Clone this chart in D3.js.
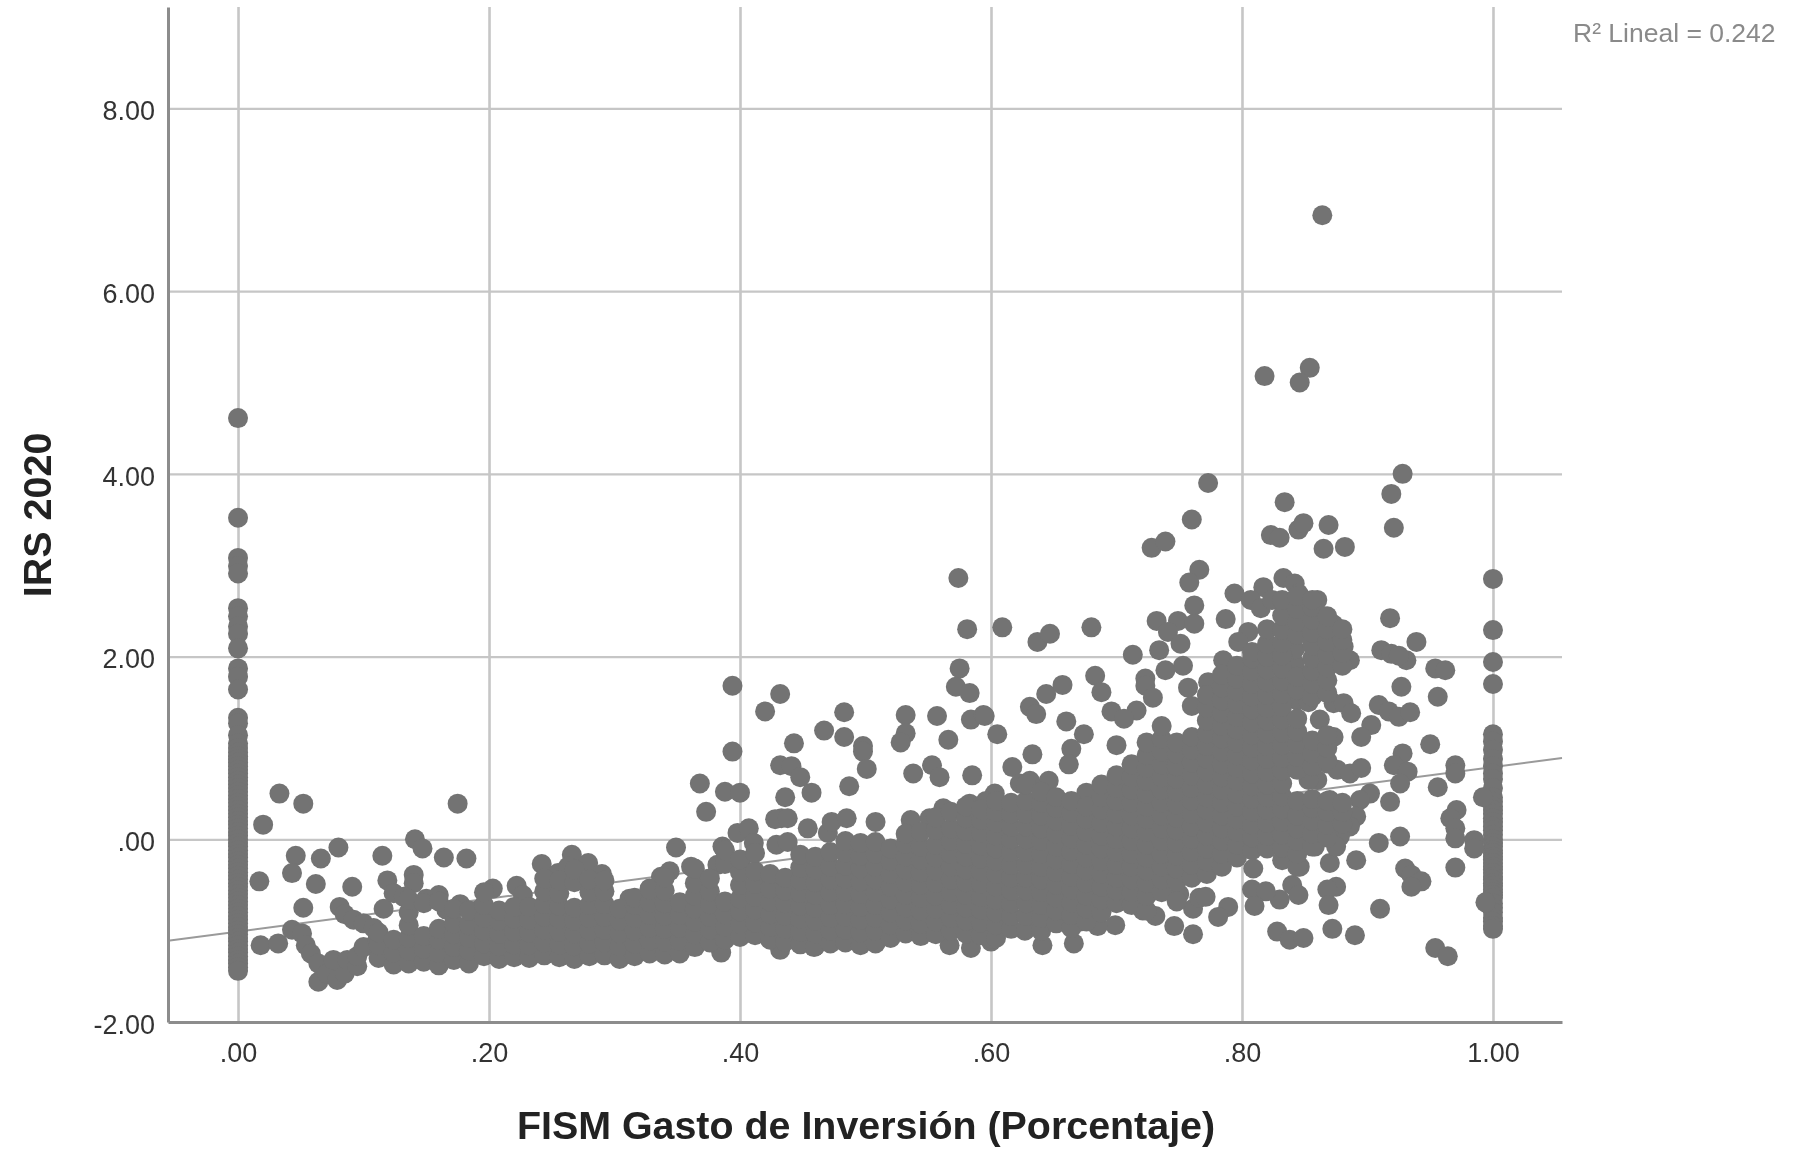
<!DOCTYPE html>
<html>
<head>
<meta charset="utf-8">
<script src="https://cdnjs.cloudflare.com/ajax/libs/d3/7.8.5/d3.min.js"></script>
<style>
  html, body { margin: 0; padding: 0; background: #fff; overflow: hidden; }
  svg { display: block; filter: blur(.5px); }
  text { font-family: "Liberation Sans", Arial, sans-serif; }
</style>
</head>
<body>
<svg id="chart" width="1793" height="1150"></svg>
<script>
// tick labels
const xTicks = [0, .2, .4, .6, .8, 1];
const xTickLabels = ['.00', '.20', '.40', '.60', '.80', '1.00'];
const yTicks = [-2, 0, 2, 4, 6, 8];
const yTickLabels = ['-2.00', '.00', '2.00', '4.00', '6.00', '8.00'];

// fit line, read at the two ends of the plot
const trendX = [-.0558, 1.055];
const trendY = [-1.11, .89];

// municipalities stacked at exactly 0 and exactly 1
const irsAtZero = [4.61,3.52,3.08,2.99,2.91,2.53,2.44,2.33,2.25,2.09,1.87,1.78,1.64,1.33,1.27,1.14,1.05,1,.95,.91,.88,.84,.8,.76,.72,.68,.64,.6,.56,.52,.48,.44,.4,.36,.32,.28,.24,.2,.16,.12,.08,.04,0,-.04,-.08,-.12,-.16,-.2,-.24,-.28,-.32,-.36,-.4,-.44,-.48,-.52,-.56,-.6,-.64,-.68,-.72,-.76,-.8,-.84,-.88,-.92,-.96,-1,-1.04,-1.08,-1.12,-1.16,-1.2,-1.24,-1.28,-1.32,-1.36,-1.4,-1.44];
const irsAtOne = [2.85,2.29,1.94,1.7,1.15,1.07,.98,.88,.8,.72,.66,.56,.46,.41,.36,.32,.28,.23,.19,.14,.1,.05,0,-.04,-.08,-.12,-.15,-.19,-.22,-.26,-.3,-.33,-.37,-.41,-.44,-.48,-.51,-.55,-.58,-.61,-.64,-.7,-.75,-.8,-.86,-.9,-.95,-.98];

// points that can be told apart, [gasto, irs]
const separatePoints = [
  [.864,6.83],[.818,5.07],[.854,5.16],[.846,5],[.773,3.9],[.76,3.5],[.728,3.19],[.739,3.26],[.928,4],[.919,3.78],[.921,3.41],
  [.834,3.69],[.869,3.44],[.865,3.18],[.882,3.2],[.823,3.33],[.83,3.3],[.845,3.39],[.849,3.46],[.574,2.86],[.581,2.3],[.609,2.32],
  [.637,2.16],[.647,2.25],[.68,2.32],[.713,2.02],[.766,2.95],[.758,2.81],
  [.033,.5],[.052,.39],[.02,.16],[.175,.39],[.08,-.09],[.066,-.21],[.046,-.18],[.043,-.37],[.017,-.46],[.062,-.49],[.091,-.52],
  [.115,-.18],[.141,0],[.147,-.1],[.164,-.2],[.182,-.21],[.119,-.45],[.14,-.39],[.14,-.48],[.203,-.54],[.052,-.75],[.018,-1.16],
  [.032,-1.14],[.116,-.76],[.081,-.74],[.085,-.82],[.092,-.88],[.1,-.92],[.108,-.97],[.043,-.99],[.051,-1.03],[.054,-1.16],[.058,-1.25],
  [.064,-1.36],[.064,-1.56],[.071,-1.47],[.079,-1.54],[.085,-1.47],[.076,-1.32],[.087,-1.32],[.095,-1.39],[.095,-1.28],[.1,-1.18],[.111,-1.1],
  [.124,-.59],[.132,-.63],[.15,-.65],[.16,-.61],[.177,-.71],[.192,-.77],[.166,-.77],
  [.222,-.51],[.242,-.27],[.266,-.17],[.279,-.26],[.29,-.38],[.255,-.37],[.246,-.54],[.227,-.61],[.263,-.3],[.312,-.65],[.328,-.54],[.337,-.41],[.344,-.35],
  [.349,-.09],[.361,-.3],[.386,-.08],[.382,-.28],[.401,-.23],[.368,.61],[.388,.52],[.4,.51],[.373,.3],[.398,.07],[.407,.12],[.411,-.04],[.385,-1.24],
  [.394,1.68],[.394,.96],[.432,1.59],[.42,1.4],[.443,1.05],[.467,1.19],[.483,1.39],[.483,1.12],[.498,1.02],[.498,.96],[.501,.77],[.487,.58],[.432,.81],
  [.441,.8],[.448,.68],[.457,.51],[.436,.46],[.433,.23],[.428,.22],[.438,.23],[.454,.12],[.429,-.06],[.438,-.03],[.47,.07],[.473,.19],[.485,.23],[.508,.19],
  [.532,1.36],[.532,1.16],[.528,1.06],[.557,1.35],[.566,1.09],[.584,1.31],[.594,1.36],[.538,.72],[.553,.81],[.559,.68],[.585,.7],[.575,1.87],[.572,1.67],
  [.583,1.6],[.605,1.15],[.603,.5],[.583,.39],[.562,.34],[.536,.21],[.551,.23],[.432,-1.21],[.459,-1.18],[.567,-1.16],[.584,-1.19],[.6,-1.12],
  [.641,-1.16],[.666,-1.14],[.699,-.94],[.685,-.95],[.671,-.9],[.627,-1],[.601,-1.09],
  [.595,1.35],[.631,1.45],[.636,1.37],[.644,1.59],[.657,1.69],[.66,1.29],[.683,1.79],[.688,1.61],[.674,1.15],[.664,.99],[.633,.93],[.617,.79],[.696,1.4],
  [.732,2.39],[.749,2.39],[.741,2.27],[.734,2.07],[.751,2.14],[.762,2.56],[.762,2.36],[.787,2.41],[.794,2.69],[.805,2.27],[.797,2.16],[.785,1.96],[.753,1.9],
  [.739,1.85],[.723,1.76],[.723,1.68],[.773,1.72],[.757,1.66],[.729,1.55],[.716,1.41],[.706,1.32],[.7,1.03],[.662,.82],[.676,.51],[.646,.64],[.631,.64],[.596,.42],[.623,.61],
  [.761,-1.04],[.746,-.95],[.789,-.74],[.781,-.85],[.761,-.76],[.75,-.6],[.721,-.78],[.731,-.84],[.68,-.73],[.766,-.64],[.771,-.63],
  [.918,2.42],[.939,2.16],[.911,2.07],[.919,2.03],[.931,1.96],[.925,2.01],[.954,1.87],[.962,1.85],[.927,1.67],[.956,1.56],[.909,1.47],[.917,1.4],[.925,1.34],[.934,1.39],
  [.903,1.25],[.895,1.12],[.95,1.04],[.928,.94],[.921,.81],[.932,.74],[.926,.61],[.97,.81],[.97,.72],[.956,.57],[.918,.41],[.971,.32],[.966,.23],[.97,.12],[.97,.01],
  [.985,-.01],[.985,-.1],[.926,.03],[.909,-.04],[.891,-.23],[.97,-.31],[.93,-.32],[.935,-.39],[.943,-.46],[.935,-.52],[.91,-.76],[.89,-1.05],[.872,-.98],[.954,-1.19],[.964,-1.28],
  [.828,-1.01],[.838,-1.1],[.849,-1.08],[.875,-.52],[.868,-.55],[.869,-.72],[.84,-.5],[.845,-.61],[.83,-.66],[.809,-.32],[.808,-.55],[.819,-.57],[.81,-.73],[.87,-.26],[.846,-.3],[.858,-.08],
  [.833,2.86],[.842,2.8],[.817,2.76],[.807,2.62],[.815,2.53],[.824,2.62],[.845,2.69],[.86,2.62],[.865,2.44],[.873,2.35],[.881,2.11],[.886,1.96],
  [.844,1.52],[.853,1.5],[.873,1.49],[.881,1.49],[.887,1.38],[.862,1.31],[.873,1.12],[.849,.87],[.86,.87],[.868,.83],[.876,.76],[.886,.72],[.895,.78],[.86,.65],[.853,.65],
  [.87,.43],[.902,.5],[.894,.43],[.891,.25],[.886,.14],[.878,.03],[.875,-.08],[.862,.36],
  [.842,1.92],[.842,2.08]
];

// the solid mass, read column by column: gasto, then the irs values under that gasto
const massColumns = [
  [.112,[-1.3,-1.16,-1.02]],
  [.124,[-1.37,-1.24,-1.1]],
  [.136,[-1.36,-1.22,-1.08,-.94,-.8,-.66]],
  [.148,[-1.34,-1.2,-1.06,-.7]],
  [.16,[-1.38,-1.24,-1.1,-.98,-.68]],
  [.172,[-1.32,-1.18,-1.04,-.92,-.76]],
  [.184,[-1.36,-1.22,-1.08,-.94,-.78]],
  [.196,[-1.28,-1.14,-1,-.86,-.72,-.58]],
  [.208,[-1.31,-1.17,-1.03,-.89,-.78]],
  [.22,[-1.29,-1.15,-1.01,-.87,-.74]],
  [.232,[-1.3,-1.16,-1.02,-.88,-.74]],
  [.244,[-1.27,-1.13,-.99,-.85,-.71,-.57,-.43]],
  [.256,[-1.29,-1.15,-1.01,-.87,-.73,-.59,-.45]],
  [.268,[-1.31,-1.17,-1.03,-.89,-.75,-.47,-.33]],
  [.28,[-1.28,-1.14,-1,-.86,-.72,-.58,-.44]],
  [.292,[-1.27,-1.13,-.99,-.85,-.71,-.57,-.45]],
  [.304,[-1.31,-1.17,-1.03,-.89,-.76]],
  [.316,[-1.28,-1.14,-1,-.86,-.72,-.64]],
  [.328,[-1.25,-1.11,-.97,-.83,-.69,-.55]],
  [.34,[-1.26,-1.12,-.98,-.84,-.7,-.56,-.42]],
  [.352,[-1.25,-1.11,-.97,-.83,-.69]],
  [.364,[-1.18,-1.04,-.9,-.76,-.62,-.48,-.32]],
  [.376,[-1.13,-.99,-.85,-.71,-.57,-.43]],
  [.388,[-1.1,-.96,-.82,-.68,-.27,-.12]],
  [.4,[-1.07,-.93,-.79,-.65,-.5,-.36,-.22]],
  [.412,[-1.05,-.91,-.77,-.63,-.49,-.35,-.15]],
  [.424,[-1.1,-.96,-.82,-.68,-.54,-.38]],
  [.436,[-1.12,-.98,-.84,-.7,-.56,-.42]],
  [.448,[-1.15,-1.01,-.87,-.73,-.59,-.45,-.31,-.17]],
  [.46,[-1.17,-1.03,-.89,-.75,-.61,-.47,-.33,-.19]],
  [.472,[-1.14,-1,-.86,-.72,-.58,-.44,-.3,-.14]],
  [.484,[-1.13,-.99,-.85,-.71,-.57,-.43,-.29,-.15,-.02]],
  [.496,[-1.16,-1.02,-.88,-.74,-.6,-.46,-.32,-.18,-.04]],
  [.508,[-1.14,-1,-.86,-.72,-.58,-.44,-.3,-.16,-.03]],
  [.52,[-1.08,-.94,-.8,-.66,-.52,-.38,-.24,-.1]],
  [.532,[-1.03,-.89,-.75,-.61,-.47,-.33,-.19,-.05,.06]],
  [.544,[-1.06,-.92,-.78,-.64,-.5,-.36,-.22,-.08,.08]],
  [.556,[-1.04,-.9,-.76,-.62,-.48,-.34,-.2,-.06,.1,.24]],
  [.568,[-1,-.86,-.72,-.58,-.44,-.3,-.16,-.02,.12,.3]],
  [.58,[-1.03,-.89,-.75,-.61,-.47,-.33,-.19,-.05,.09,.23,.36]],
  [.592,[-1.05,-.91,-.77,-.63,-.49,-.35,-.21,-.07,.07,.21,.33]],
  [.604,[-1.08,-.94,-.8,-.66,-.52,-.38,-.24,-.1,.04,.18,.3,.42]],
  [.616,[-.98,-.84,-.7,-.56,-.42,-.28,-.14,0,.14,.28,.4]],
  [.628,[-.98,-.84,-.7,-.56,-.42,-.28,-.14,0,.14,.28,.42,.6]],
  [.64,[-1,-.86,-.72,-.58,-.44,-.3,-.16,-.02,.12,.26,.4,.52]],
  [.652,[-.92,-.78,-.64,-.5,-.36,-.22,-.08,.06,.2,.34,.46]],
  [.664,[-.97,-.83,-.69,-.55,-.41,-.27,-.13,.01,.15,.29,.42]],
  [.676,[-.9,-.76,-.62,-.48,-.34,-.2,-.06,.08,.22,.36]],
  [.688,[-.8,-.66,-.52,-.38,-.24,-.1,.04,.18,.32,.46,.6]],
  [.7,[-.7,-.56,-.42,-.28,-.14,0,.14,.28,.42,.56,.7]],
  [.712,[-.72,-.58,-.44,-.3,-.16,-.02,.12,.26,.4,.54,.68,.82]],
  [.724,[-.78,-.62,-.48,-.34,-.2,-.06,.08,.22,.36,.5,.64,.78,.92,1.06]],
  [.736,[-.58,-.44,-.3,-.16,-.02,.12,.26,.4,.54,.68,.82,.96,1.1,1.24]],
  [.748,[-.68,-.46,-.32,-.18,-.04,.1,.24,.38,.52,.66,.8,.94,1.06]],
  [.76,[-.42,-.28,-.14,0,.14,.28,.42,.56,.7,.84,.98,1.12,1.46]],
  [.772,[-.38,-.24,-.1,.04,.18,.32,.46,.6,.74,.88,1.02,1.16,1.3,1.44,1.58]],
  [.784,[-.3,-.16,-.02,.12,.26,.4,.54,.68,.82,.96,1.1,1.24,1.38,1.52,1.66,1.8]],
  [.796,[-.2,-.06,.08,.22,.36,.5,.64,.78,.92,1.06,1.2,1.34,1.48,1.62,1.76,1.9]],
  [.808,[-.12,.02,.16,.3,.44,.58,.72,.86,1,1.14,1.28,1.42,1.56,1.7,1.84,1.98,2.05]],
  [.82,[-.1,.04,.18,.32,.46,.6,.74,.88,1.02,1.16,1.3,1.44,1.58,1.72,1.86,2,2.14,2.3]],
  [.832,[-.23,-.09,.05,.19,.33,.47,.61,.75,.89,1.03,1.17,1.31,1.45,1.59,1.73,1.87,2.01,2.15,2.29,2.45,2.62]],
  [.844,[-.3,-.16,-.02,.12,.26,.42,.76,.9,1.04,1.18,1.32,1.64,1.78,2.24,2.38,2.52,2.66]],
  [.856,[-.08,.06,.2,.34,.44,.8,.94,1.08,1.56,1.7,1.84,1.98,2.12,2.26,2.4,2.54,2.62]],
  [.868,[.02,.16,.3,.42,.86,1,1.14,1.6,1.74,1.88,2.02,2.16,2.3,2.44]],
  [.88,[.17,.3,.4,1.9,2.04,2.18,2.3]]
];

const svg = d3.select('#chart');
const plotLeft = 168, plotRight = 1562, plotTop = 7, plotBottom = 1022;

const x = d3.scaleLinear().domain([-.0558, 1.055]).range([plotLeft, plotRight]);
const y = d3.scaleLinear().domain([-2, 9.11]).range([plotBottom, plotTop]);

// gridlines come from the axes themselves
const xGrid = svg.append('g')
  .attr('transform', `translate(0,${plotBottom})`)
  .call(d3.axisBottom(x).tickValues(xTicks).tickSize(plotTop - plotBottom).tickFormat(''));
xGrid.select('.domain').remove();
xGrid.selectAll('line').attr('stroke', '#c6c6c6').attr('stroke-width', 2.6);

const yGrid = svg.append('g')
  .attr('transform', `translate(${plotLeft},0)`)
  .call(d3.axisLeft(y).tickValues(yTicks.slice(1)).tickSize(plotLeft - plotRight).tickFormat(''));
yGrid.select('.domain').remove();
yGrid.selectAll('line').attr('stroke', '#c6c6c6').attr('stroke-width', 2.2);

// fit line goes under the dots
const trendLine = d3.line().x(d => x(d)).y((d, i) => y(trendY[i]));
svg.append('path')
  .attr('d', trendLine(trendX))
  .attr('fill', 'none')
  .attr('stroke', '#9a9a9a')
  .attr('stroke-width', 2);

// put all the points together
const points = [
  ...irsAtZero.map(v => [0, v]),
  ...irsAtOne.map(v => [1, v]),
  [.992, .46], [.994, -.69],
  ...separatePoints
];
massColumns.forEach(c => c[1].forEach(v => points.push([c[0], v])));

svg.append('g')
  .selectAll('circle')
  .data(points)
  .join('circle')
  .attr('cx', d => x(d[0]))
  .attr('cy', d => y(d[1]))
  .attr('r', 10)
  .attr('fill', '#737373');

// axis lines and tick labels
const xAxis = svg.append('g')
  .attr('transform', `translate(0,${plotBottom})`)
  .call(d3.axisBottom(x).tickValues(xTicks).tickSize(0).tickPadding(21).tickFormat((d, i) => xTickLabels[i]));
xAxis.select('.domain').attr('stroke', '#8c8c8c').attr('stroke-width', 3);
xAxis.selectAll('text').attr('font-size', 27).attr('fill', '#333');

const yAxis = svg.append('g')
  .attr('transform', `translate(${plotLeft},0)`)
  .call(d3.axisLeft(y).tickValues(yTicks).tickSize(0).tickPadding(13).tickFormat((d, i) => yTickLabels[i]));
yAxis.select('.domain').attr('stroke', '#8c8c8c').attr('stroke-width', 3);
yAxis.selectAll('text').attr('font-size', 27).attr('fill', '#333').attr('dy', '.42em');

// titles
svg.append('text')
  .attr('x', 866).attr('y', 1139)
  .attr('text-anchor', 'middle')
  .attr('font-size', 39.4).attr('font-weight', 'bold').attr('fill', '#222')
  .text('FISM Gasto de Inversión (Porcentaje)');

svg.append('text')
  .attr('transform', 'translate(51,515) rotate(-90)')
  .attr('text-anchor', 'middle')
  .attr('font-size', 39.5).attr('font-weight', 'bold').attr('fill', '#222')
  .text('IRS 2020');

svg.append('text')
  .attr('x', 1573).attr('y', 42)
  .attr('font-size', 26.5).attr('fill', '#8a8a8a')
  .text('R² Lineal = 0.242');
</script>
</body>
</html>
